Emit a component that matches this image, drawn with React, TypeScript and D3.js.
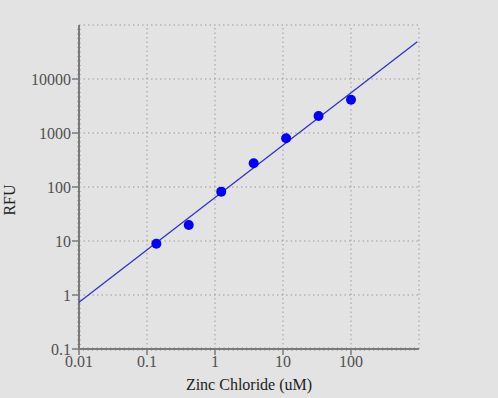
import React, { useEffect, useRef } from "react";
import * as d3 from "d3";

// zinc chloride concentration (uM) and measured fluorescence
const concentrations = [0.1372, 0.4115, 1.235, 3.704, 11.11, 33.33, 100];
const rfu = [8.9, 19.8, 82, 275, 800, 2065, 4140];

// fitted power-law line, end points
const fitX = [0.01, 944];
const fitY = [0.733, 49100];

const xTicks = [0.01, 0.1, 1, 10, 100];
const xTickLabels = ["0.01", "0.1", "1", "10", "100"];
const yTicks = [0.1, 1, 10, 100, 1000, 10000];
const yTickLabels = ["0.1", "1", "10", "100", "1000", "10000"];

const width = 498;
const height = 398;
const margin = { top: 25, left: 79, bottom: 49, right: 79 };

export default function App() {
  const ref = useRef<SVGSVGElement>(null);

  useEffect(() => {
    const svg = d3.select(ref.current);
    svg.selectAll("*").remove();

    const x = d3
      .scaleLog()
      .domain([0.01, 1000])
      .range([margin.left, width - margin.right]);
    const y = d3
      .scaleLog()
      .domain([0.1, 100000])
      .range([height - margin.bottom, margin.top]);

    const [x0, x1] = x.range();
    const [y0, y1] = y.range();

    svg
      .append("rect")
      .attr("width", width)
      .attr("height", height)
      .attr("fill", "#e3e3e3");

    const grid = svg.append("g").attr("stroke", "#9a9a9a").attr("stroke-width", 1).attr("stroke-dasharray", "1.5,3");

    // vertical grid + right border
    grid
      .selectAll("line.vx")
      .data([...xTicks.slice(1), 1000])
      .enter()
      .append("line")
      .attr("x1", (d) => x(d))
      .attr("x2", (d) => x(d))
      .attr("y1", y0)
      .attr("y2", y1);

    // horizontal grid + top border
    grid
      .selectAll("line.hy")
      .data([...yTicks.slice(1), 100000])
      .enter()
      .append("line")
      .attr("class", "hy")
      .attr("x1", x0)
      .attr("x2", x1)
      .attr("y1", (d) => y(d))
      .attr("y2", (d) => y(d));

    // minor ticks, evenly spaced in log
    const minorX: number[] = [];
    for (let e = -2; e < 3; e++) {
      for (let k = 1; k < 15; k++) minorX.push(Math.pow(10, e + k / 15));
    }
    const minorY: number[] = [];
    for (let e = -1; e < 5; e++) {
      for (let k = 1; k < 12; k++) minorY.push(Math.pow(10, e + k / 12));
    }

    const axis = svg.append("g").attr("stroke", "#7a7a7a");

    axis
      .selectAll("line.mx")
      .data(minorX)
      .enter()
      .append("line")
      .attr("x1", (d) => x(d))
      .attr("x2", (d) => x(d))
      .attr("y1", y0 - 1.5)
      .attr("y2", y0 + 1.5)
      .attr("stroke-width", 1);

    axis
      .selectAll("line.my")
      .data(minorY)
      .enter()
      .append("line")
      .attr("y1", (d) => y(d))
      .attr("y2", (d) => y(d))
      .attr("x1", x0 - 1.5)
      .attr("x2", x0 + 1.5)
      .attr("stroke-width", 1);

    axis
      .append("line")
      .attr("x1", x0)
      .attr("x2", x1)
      .attr("y1", y0)
      .attr("y2", y0)
      .attr("stroke-width", 2);
    axis
      .append("line")
      .attr("x1", x0)
      .attr("x2", x0)
      .attr("y1", y0)
      .attr("y2", y1)
      .attr("stroke-width", 2);

    axis
      .selectAll("line.tx")
      .data(xTicks)
      .enter()
      .append("line")
      .attr("x1", (d) => x(d))
      .attr("x2", (d) => x(d))
      .attr("y1", y0)
      .attr("y2", y0 + 6)
      .attr("stroke-width", 1.5);
    axis
      .selectAll("line.ty")
      .data(yTicks)
      .enter()
      .append("line")
      .attr("y1", (d) => y(d))
      .attr("y2", (d) => y(d))
      .attr("x1", x0)
      .attr("x2", x0 - 7)
      .attr("stroke-width", 1.5);

    const font = "'Liberation Serif', 'Times New Roman', serif";

    svg
      .append("g")
      .selectAll("text")
      .data(xTicks)
      .enter()
      .append("text")
      .attr("x", (d) => x(d))
      .attr("y", y0 + 18)
      .attr("text-anchor", "middle")
      .attr("font-family", font)
      .attr("font-size", 16)
      .attr("fill", "#505050")
      .text((d, i) => xTickLabels[i]);

    svg
      .append("g")
      .selectAll("text")
      .data(yTicks)
      .enter()
      .append("text")
      .attr("x", x0 - 8)
      .attr("y", (d) => y(d))
      .attr("dy", "0.35em")
      .attr("text-anchor", "end")
      .attr("font-family", font)
      .attr("font-size", 16)
      .attr("fill", "#505050")
      .text((d, i) => yTickLabels[i]);

    svg
      .append("text")
      .attr("x", (x0 + x1) / 2)
      .attr("y", 390)
      .attr("text-anchor", "middle")
      .attr("font-family", font)
      .attr("font-size", 16)
      .attr("fill", "#222")
      .text("Zinc Chloride (uM)");

    svg
      .append("text")
      .attr("transform", "translate(15,200) rotate(-90)")
      .attr("text-anchor", "middle")
      .attr("font-family", font)
      .attr("font-size", 16)
      .attr("fill", "#222")
      .text("RFU");

    const line = d3
      .line<number>()
      .x((d) => x(d))
      .y((d, i) => y(fitY[i]));

    svg
      .append("path")
      .datum(fitX)
      .attr("d", line)
      .attr("fill", "none")
      .attr("stroke", "#3030d0")
      .attr("stroke-width", 1.3);

    svg
      .append("g")
      .selectAll("circle")
      .data(concentrations)
      .enter()
      .append("circle")
      .attr("cx", (d) => x(d))
      .attr("cy", (d, i) => y(rfu[i]))
      .attr("r", 5)
      .attr("fill", "#0000ff");
  }, []);

  return (
    <svg
      ref={ref}
      width={width}
      height={height}
      style={{ position: "fixed", left: 0, top: 0, display: "block" }}
    />
  );
}
